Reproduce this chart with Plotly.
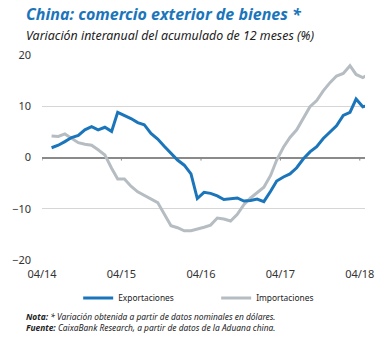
import plotly.graph_objects as go
import pandas as pd

months = pd.date_range("2014-04-15", periods=49, freq="MS") + pd.Timedelta(days=14)

exportaciones = [1.9, 2.4, 3.1, 3.9, 4.3, 5.4, 6.0, 5.4, 5.9, 5.1,
                 8.8, 8.2, 7.6, 6.8, 6.4, 4.7, 3.6, 2.2, 0.9, -0.5,
                 -1.5, -3.2, -8.0, -6.8, -7.0, -7.5, -8.2, -8.1, -7.9, -8.5,
                 -8.4, -8.1, -8.6, -6.6, -4.6, -3.8, -3.2, -2.0, -0.3, 1.1,
                 2.1, 3.7, 4.9, 6.2, 8.2, 8.8, 11.4, 9.9, 10.2]

importaciones = [4.2, 4.1, 4.6, 3.8, 2.9, 2.6, 2.4, 1.5, 0.5, -2.1,
                 -4.2, -4.2, -5.6, -6.7, -7.4, -8.0, -8.8, -11.0, -13.3, -13.7,
                 -14.3, -14.3, -14.0, -13.6, -13.2, -11.8, -12.0, -12.4, -11.1, -9.2,
                 -7.9, -6.8, -5.8, -3.5, -0.5, 2.0, 3.9, 5.4, 7.5, 9.9,
                 11.1, 13.0, 14.6, 15.9, 16.4, 17.9, 16.2, 15.6, 16.3]

tick_dates = ["2014-04-01", "2015-04-01", "2016-04-01", "2017-04-01", "2018-04-01"]
tick_labels = ["04/14", "04/15", "04/16", "04/17", "04/18"]
y_ticks = [-20, -10, 0, 10, 20]

BLUE = "#1b75bb"
GRAY = "#b5bdc3"
FONT = "Noto Sans"

fig = go.Figure()
fig.add_trace(go.Scatter(x=months, y=importaciones, mode="lines", name="Importaciones",
                         line=dict(color=GRAY, width=3)))
fig.add_trace(go.Scatter(x=months, y=exportaciones, mode="lines", name="Exportaciones",
                         line=dict(color=BLUE, width=3)))

# year tick marks on zero line
for d in tick_dates:
    fig.add_shape(type="line", x0=d, x1=d, y0=0, y1=-0.6, xref="x", yref="y",
                  line=dict(color="#888888", width=1), layer="above")

fig.update_layout(
    width=386, height=338,
    margin=dict(l=30, r=17, t=55, b=78),
    paper_bgcolor="white", plot_bgcolor="white",
    showlegend=True,
    legend=dict(orientation="h", x=0.112, xanchor="left", y=-0.115, yanchor="top",
                traceorder="reversed", font=dict(family=FONT, size=8.4, color="#222"),
                entrywidth=93, itemwidth=30),
    xaxis=dict(type="date", range=["2014-04-01", "2018-04-25"],
               tickvals=tick_dates, ticktext=tick_labels, showgrid=False,
               zeroline=False, showline=False, ticks="", ticklabelstandoff=6,
               tickfont=dict(family=FONT, size=11, color="#333")),
    yaxis=dict(range=[-20, 20], tickvals=y_ticks, showgrid=True, gridcolor="#d6d6d6",
               gridwidth=1, zeroline=True, zerolinecolor="#8a8a8a", zerolinewidth=1.5,
               showline=False, ticks="", ticklabelstandoff=10,
               tickfont=dict(family=FONT, size=11, color="#333")),
)

fig.add_annotation(text="<b><i>China: comercio exterior de bienes *</i></b>",
                   xref="paper", yref="paper", x=-0.055, y=1.0, xanchor="left", yanchor="bottom",
                   yshift=28, showarrow=False, font=dict(family=FONT, size=16, color=BLUE))
fig.add_annotation(text="<i>Variación interanual del acumulado de 12 meses (%)</i>",
                   xref="paper", yref="paper", x=-0.055, y=1.0, xanchor="left", yanchor="bottom",
                   yshift=9, showarrow=False, font=dict(family=FONT, size=12.4, color="#222"))
fig.add_annotation(text="<b><i>Nota:</i></b><i> * Variación obtenida a partir de datos nominales en dólares.</i><br>"
                        "<b><i>Fuente:</i></b><i> CaixaBank Research, a partir de datos de la Aduana china.</i>",
                   xref="paper", yref="paper", x=-0.055, y=0, xanchor="left", yanchor="top",
                   yshift=-49, align="left", showarrow=False,
                   font=dict(family=FONT, size=8.4, color="#222"))

fig.write_html("out.html")
